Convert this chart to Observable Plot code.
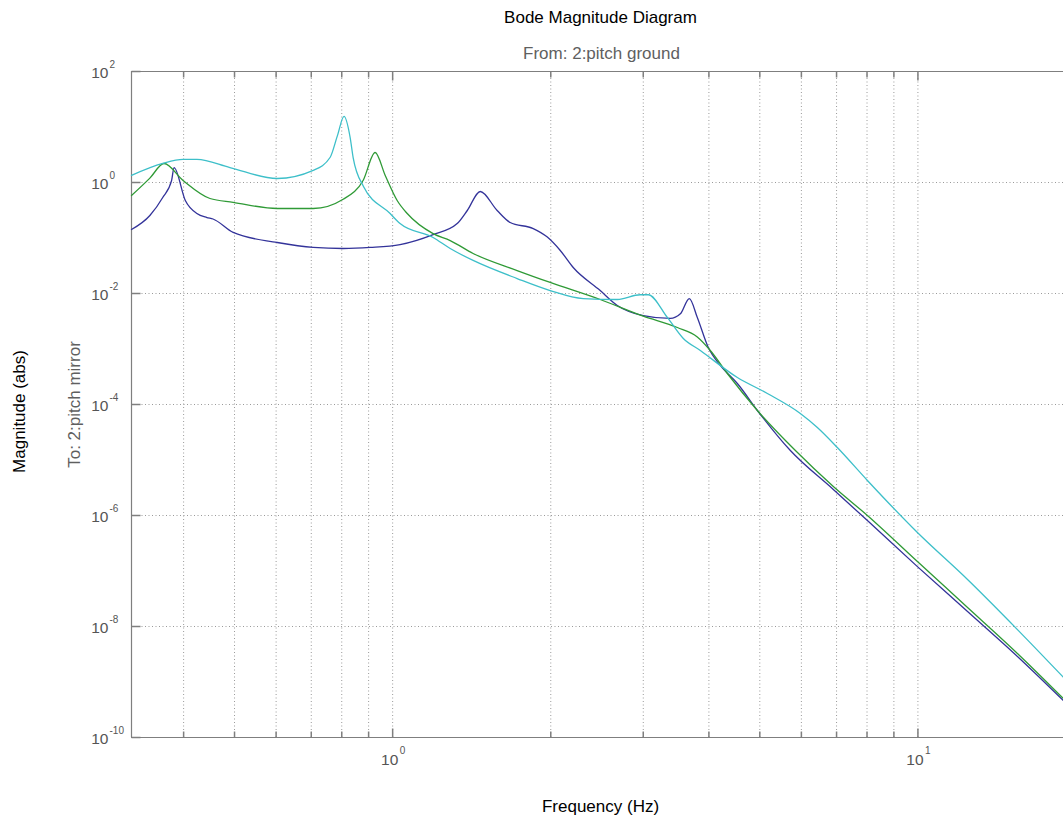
<!DOCTYPE html>
<html>
<head>
<meta charset="utf-8">
<script src="https://cdn.jsdelivr.net/npm/d3@7"></script>
<script src="https://cdn.jsdelivr.net/npm/@observablehq/plot@0.6"></script>
<style>
html, body { margin: 0; padding: 0; background: #fff; overflow: hidden; }
#chart svg { display: block; }
</style>
</head>
<body>
<div id="chart"></div>
<script>
// ---- data (frequency in Hz, magnitude abs) ----
const blueFreq = [0.3183, 0.345, 0.365, 0.3795, 0.3836, 0.403, 0.424, 0.443, 0.455, 0.497, 0.603, 0.706, 0.805, 0.906, 1.033, 1.194, 1.327, 1.387, 1.468, 1.581, 1.674, 1.852, 1.97, 2.085, 2.207, 2.484, 2.677, 3.0, 3.378, 3.53, 3.671, 3.802, 3.99, 4.205, 4.532, 4.947, 5.717, 6.902, 8.014, 9.978, 12.43, 15.47, 18.93];
const blueMag  = [0.142, 0.254, 0.537, 1.09, 1.86, 0.474, 0.276, 0.234, 0.22, 0.126, 0.083, 0.0675, 0.0647, 0.0675, 0.076, 0.115, 0.182, 0.313, 0.689, 0.313, 0.19, 0.148, 0.104, 0.0596, 0.0294, 0.0113, 0.0061, 0.004, 0.00355, 0.0043, 0.0081, 0.0037, 0.00106, 0.000505, 0.000239, 7.8e-5, 1.48e-5, 2.94e-6, 8.1e-7, 1.2e-7, 1.86e-8, 2.88e-9, 4.6e-10];

const greenFreq = [0.3183, 0.345, 0.367, 0.399, 0.449, 0.497, 0.603, 0.706, 0.805, 0.879, 0.926, 0.968, 1.02, 1.066, 1.194, 1.287, 1.423, 1.726, 1.995, 2.484, 3.0, 3.484, 3.802, 4.025, 4.337, 4.947, 5.845, 6.902, 8.014, 9.978, 12.43, 15.47, 18.93];
const greenMag  = [0.583, 1.2, 2.2, 1.09, 0.515, 0.44, 0.34, 0.34, 0.5, 1.1, 3.47, 1.34, 0.474, 0.276, 0.12, 0.09, 0.0526, 0.0259, 0.0158, 0.0078, 0.0039, 0.00244, 0.00165, 0.00094, 0.000362, 7.8e-5, 1.48e-5, 3.33e-6, 1.0e-6, 1.48e-7, 2.2e-8, 3.27e-9, 5.0e-10];

const cyanFreq = [0.3183, 0.365, 0.399, 0.424, 0.49, 0.603, 0.706, 0.76, 0.785, 0.808, 0.83, 0.841, 0.88, 0.989, 1.033, 1.194, 1.287, 1.423, 1.726, 1.995, 2.306, 2.677, 2.961, 3.066, 3.334, 3.576, 3.853, 4.532, 5.169, 5.972, 6.435, 7.024, 8.014, 9.978, 12.43, 15.47, 18.93];
const cyanMag  = [1.34, 2.2, 2.6, 2.6, 1.86, 1.18, 1.65, 2.82, 7.0, 15.5, 6.47, 2.82, 0.85, 0.276, 0.182, 0.102, 0.0647, 0.0394, 0.0186, 0.0113, 0.0081, 0.0078, 0.0095, 0.0095, 0.0037, 0.00155, 0.00094, 0.000306, 0.000158, 6.9e-5, 3.86e-5, 1.68e-5, 4.28e-6, 4.94e-7, 7.03e-8, 8.8e-9, 1.21e-9];

// ---- axes / ticks ----
const xDomain = [0.3183, 18.93];
const yDomain = [1e-10, 1e2];
const xGridTicks = [0.4, 0.5, 0.6, 0.7, 0.8, 0.9, 1, 2, 3, 4, 5, 6, 7, 8, 9, 10];
const xMajorTicks = [1, 10];
const xMinorTicks = xGridTicks.filter(d => !xMajorTicks.includes(d));
const yMajorTicks = [1e2, 1e0, 1e-2, 1e-4, 1e-6, 1e-8, 1e-10];
const yGridTicks = [1e0, 1e-2, 1e-4, 1e-6, 1e-8];

const titleText = "Bode Magnitude Diagram";
const subtitleText = "From: 2:pitch ground";
const xLabelText = "Frequency (Hz)";
const yLabelText = "Magnitude (abs)";
const yOutputText = "To: 2:pitch mirror";

const seriesColors = {blue: "#33339a", green: "#2f9a36", cyan: "#3dbfc9"};

const toRows = (F, M) => F.map((f, i) => ({f, m: M[i]}));
const tickSymbol = (ux, uy) => ({
  draw(ctx, size) {
    const r = Math.sqrt(size / Math.PI);
    ctx.moveTo(0, 0);
    ctx.lineTo(ux * r, uy * r);
  }
});
const exponent = d => String(Math.round(Math.log10(d)));

const axisColor = "#7f7f7f";
const gridColor = "#9a9a9a";
const labelGrey = "#555555";
const font = "'Liberation Sans', Arial, Helvetica, sans-serif";
const labelOpts = {textAnchor: "middle", lineAnchor: "middle", fontSize: 17};

const chart = Plot.plot({
  width: 1063,
  height: 820,
  marginLeft: 131,
  marginRight: 0,
  marginTop: 71,
  marginBottom: 83,
  style: {fontFamily: font, background: "#fff", overflow: "visible"},
  x: {type: "log", domain: xDomain, axis: null},
  y: {type: "log", domain: yDomain, axis: null},
  marks: [
    // grid
    Plot.ruleX(xGridTicks, {x: d => d, stroke: gridColor, strokeDasharray: "1,2.5", strokeWidth: 1}),
    Plot.ruleY(yGridTicks, {y: d => d, stroke: gridColor, strokeDasharray: "1,2.5", strokeWidth: 1}),
    // frame (top, bottom, left)
    Plot.ruleY([yDomain[1], yDomain[0]], {y: d => d, stroke: axisColor, strokeWidth: 1.2}),
    Plot.ruleX([xDomain[0]], {x: d => d, stroke: axisColor, strokeWidth: 1.2}),
    // inward ticks bottom/top
    Plot.dot(xMinorTicks, {x: d => d, y: yDomain[0], r: 6, symbol: tickSymbol(0, -1), stroke: axisColor, fill: "none"}),
    Plot.dot(xMajorTicks, {x: d => d, y: yDomain[0], r: 9, symbol: tickSymbol(0, -1), stroke: axisColor, fill: "none"}),
    Plot.dot(xMinorTicks, {x: d => d, y: yDomain[1], r: 6, symbol: tickSymbol(0, 1), stroke: axisColor, fill: "none"}),
    Plot.dot(xMajorTicks, {x: d => d, y: yDomain[1], r: 9, symbol: tickSymbol(0, 1), stroke: axisColor, fill: "none"}),
    // inward ticks left
    Plot.dot(yMajorTicks, {x: xDomain[0], y: d => d, r: 9, symbol: tickSymbol(1, 0), stroke: axisColor, fill: "none"}),
    // curves
    Plot.line(toRows(blueFreq, blueMag), {x: "f", y: "m", stroke: seriesColors.blue, strokeWidth: 1.3, curve: "monotone-x"}),
    Plot.line(toRows(greenFreq, greenMag), {x: "f", y: "m", stroke: seriesColors.green, strokeWidth: 1.3, curve: "monotone-x"}),
    Plot.line(toRows(cyanFreq, cyanMag), {x: "f", y: "m", stroke: seriesColors.cyan, strokeWidth: 1.3, curve: "monotone-x"}),
    // x tick labels
    Plot.text(xMajorTicks, {x: d => d, y: yDomain[0], text: () => "10", dx: -3, dy: 23, fontSize: 15.5, fill: labelGrey}),
    Plot.text(xMajorTicks, {x: d => d, y: yDomain[0], text: exponent, dx: 7, dy: 13, fontSize: 10, fill: labelGrey, textAnchor: "start"}),
    // y tick labels
    Plot.text(yMajorTicks, {x: xDomain[0], y: d => d, text: () => "10", dx: -23, dy: 1.5, fontSize: 15.5, fill: labelGrey, textAnchor: "end"}),
    Plot.text(yMajorTicks, {x: xDomain[0], y: d => d, text: exponent, dx: -22, dy: -7, fontSize: 10, fill: labelGrey, textAnchor: "start"}),
    // titles and axis labels
    Plot.text([titleText], {...labelOpts, frameAnchor: "top", text: d => d, dx: 3, dy: -54, fill: "#000"}),
    Plot.text([subtitleText], {...labelOpts, frameAnchor: "top", text: d => d, dx: 4, dy: -18, fill: "#5f5f5f"}),
    Plot.text([xLabelText], {...labelOpts, frameAnchor: "bottom", text: d => d, dx: 3, dy: 69, fill: "#000"}),
    Plot.text([yLabelText], {...labelOpts, frameAnchor: "left", text: d => d, rotate: -90, dx: -112, dy: 7, fill: "#000"}),
    Plot.text([yOutputText], {...labelOpts, frameAnchor: "left", text: d => d, rotate: -90, dx: -57, dy: 0, fill: "#5f5f5f"})
  ]
});

document.getElementById("chart").appendChild(chart);
</script>
</body>
</html>
